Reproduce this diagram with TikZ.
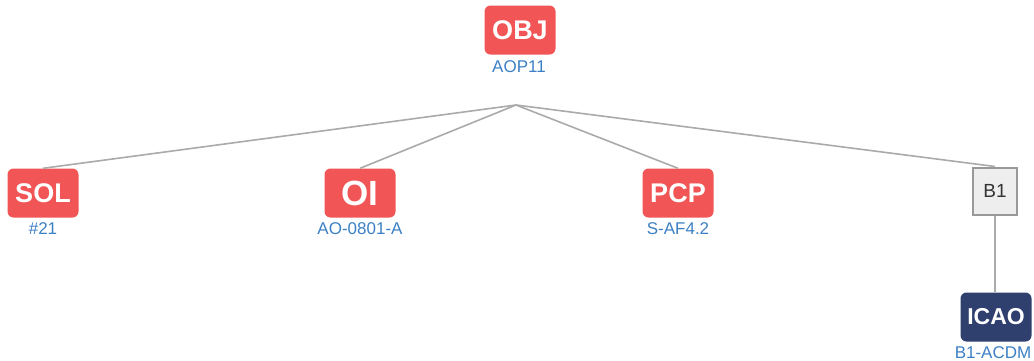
\documentclass[tikz,border=0pt]{standalone}
\usepackage{fontspec}
\setmainfont{Liberation Sans}
\definecolor{tagred}{RGB}{242,85,85}
\definecolor{tagnavy}{RGB}{47,63,110}
\definecolor{codeblue}{RGB}{59,127,196}
\definecolor{linkgray}{RGB}{170,170,170}
\definecolor{bfill}{RGB}{238,238,238}
\definecolor{bedge}{RGB}{153,153,153}
\begin{document}
\begin{tikzpicture}[x=1pt,y=-1pt,
    tag/.style={fill=tagred,text=white,rounded corners=6pt,minimum width=71pt,minimum height=49pt,
                inner sep=0pt,font=\fontsize{27}{27}\selectfont\bfseries},
    code/.style={text=codeblue,inner sep=0pt,anchor=base,font=\fontsize{17}{17}\selectfont},
    link/.style={draw=linkgray,line width=1.6pt}]
    \useasboundingbox (0,0) rectangle (1034,360);
    % parent
    \node[tag] (obj) at (520,30) {OBJ};
    \node[code] (objcode) at (519,72) {AOP11};
    \coordinate (fork) at (516,105);
    % children
    \node[tag] (sol) at (43,193) {SOL};
    \node[code] (solcode) at (43,234) {\#21};
    \node[tag,font=\fontsize{35}{35}\selectfont\bfseries] (oi) at (360,193) {OI};
    \node[code] (oicode) at (360,234) {AO-0801-A};
    \node[tag] (pcp) at (678,193) {PCP};
    \node[code] (pcpcode) at (678,234) {S-AF4.2};
    \node[fill=bfill,draw=bedge,line width=2pt,minimum width=44pt,minimum height=47pt,inner sep=0pt,
          text=black!80,font=\fontsize{19}{19}\selectfont] (bone) at (995,191) {B1};
    \node[tag,fill=tagnavy,font=\fontsize{23}{23}\selectfont\bfseries] (icao) at (996,317) {ICAO};
    \node[code] (icaocode) at (993,358) {B1-ACDM};
    % connectors
    \draw[link] (fork) -- (sol.north);
    \draw[link] (fork) -- (oi.north);
    \draw[link] (fork) -- (pcp.north);
    \draw[link] (fork) -- (bone.north);
    \draw[link] (bone.south) -- (bone.south |- icao.north);
\end{tikzpicture}
\end{document}
